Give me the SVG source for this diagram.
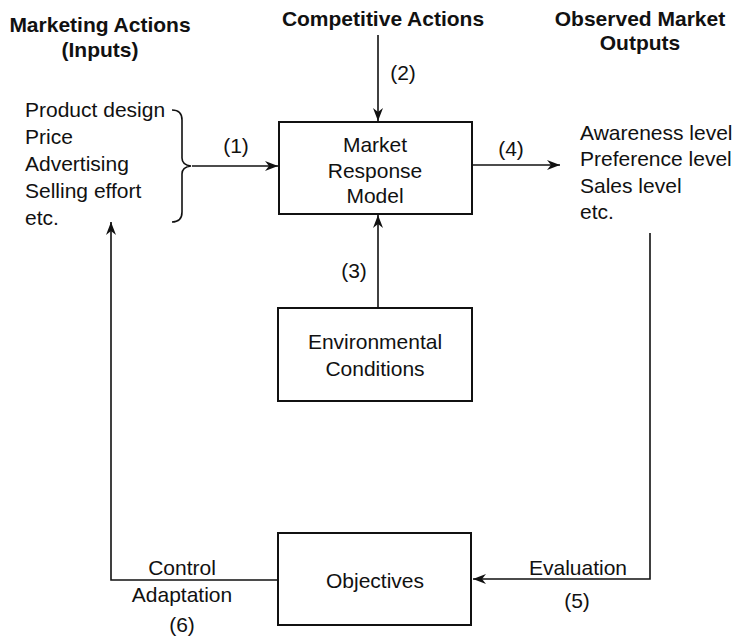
<svg xmlns="http://www.w3.org/2000/svg" width="739" height="637" viewBox="0 0 739 637">
<style>
text{font-family:"Liberation Sans",Arial,Helvetica,sans-serif;font-size:21px;fill:#111}
.b{font-weight:bold}
.m{text-anchor:middle}
.box{fill:#fff;stroke:#111;stroke-width:2}
.ln{fill:none;stroke:#111;stroke-width:1.6}
</style>
<defs>
<marker id="ah" viewBox="0 0 13 10" refX="13" refY="5" markerWidth="13" markerHeight="10" markerUnits="userSpaceOnUse" orient="auto">
<path d="M0,0 L13,5 L0,10 L4,5 Z" fill="#111"/>
</marker>
</defs>
<g id="titles">
<text class="b m" x="100" y="32">Marketing Actions</text>
<text class="b m" x="100" y="57">(Inputs)</text>
<text class="b m" x="383" y="26">Competitive Actions</text>
<text class="b m" x="640" y="26">Observed Market</text>
<text class="b m" x="640" y="50">Outputs</text>
</g>
<g id="inputs">
<text x="25" y="117">Product design</text>
<text x="25" y="144">Price</text>
<text x="25" y="171">Advertising</text>
<text x="25" y="198">Selling effort</text>
<text x="25" y="225">etc.</text>
<path class="ln" d="M172 110 Q182 110 182 120 L182 158 Q182 165 191 166 Q182 167 182 174 L182 212 Q182 222 172 222"/>
</g>
<g id="outputs">
<text x="580" y="140">Awareness level</text>
<text x="580" y="166">Preference level</text>
<text x="580" y="193">Sales level</text>
<text x="580" y="219">etc.</text>
</g>
<g id="market-response-model">
<rect class="box" x="279" y="122" width="193" height="92"/>
<text class="m" x="375" y="152">Market</text>
<text class="m" x="375" y="178">Response</text>
<text class="m" x="375" y="203">Model</text>
</g>
<g id="environmental-conditions">
<rect class="box" x="278" y="308" width="194" height="93"/>
<text class="m" x="375" y="349">Environmental</text>
<text class="m" x="375" y="376">Conditions</text>
</g>
<g id="objectives">
<rect class="box" x="278" y="533" width="193" height="92"/>
<text class="m" x="375" y="588">Objectives</text>
</g>
<g id="connectors">
<line class="ln" x1="192" y1="166" x2="278" y2="166" marker-end="url(#ah)"/>
<text class="m" x="236" y="153">(1)</text>
<line class="ln" x1="378" y1="35" x2="378" y2="121" marker-end="url(#ah)"/>
<text class="m" x="403" y="80">(2)</text>
<line class="ln" x1="378" y1="308" x2="378" y2="215" marker-end="url(#ah)"/>
<text class="m" x="354" y="278">(3)</text>
<line class="ln" x1="472" y1="165" x2="560" y2="165" marker-end="url(#ah)"/>
<text class="m" x="511" y="156">(4)</text>
<polyline class="ln" points="650,233 650,579 473,579" marker-end="url(#ah)"/>
<text class="m" x="578" y="575">Evaluation</text>
<text class="m" x="577" y="608">(5)</text>
<polyline class="ln" points="278,580 111,580 111,222" marker-end="url(#ah)"/>
<text class="m" x="182" y="575">Control</text>
<text class="m" x="182" y="602">Adaptation</text>
<text class="m" x="182" y="632">(6)</text>
</g>
</svg>
